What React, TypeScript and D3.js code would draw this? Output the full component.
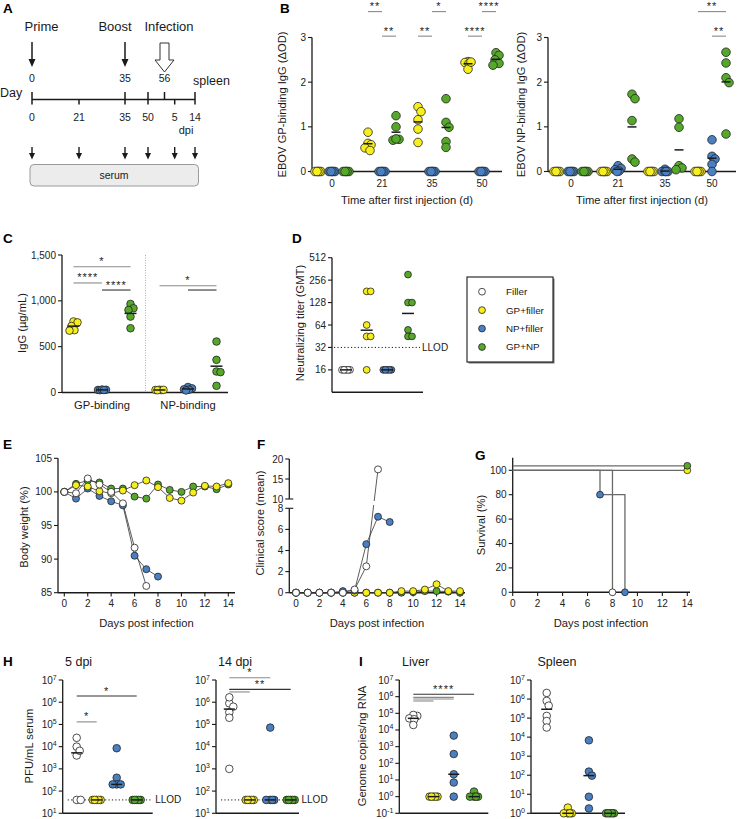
import React from "react";
import * as d3 from "d3";

const FONT = "Arial, 'Liberation Sans', Helvetica, sans-serif";
const INK = "#1a1a1a";
const LIGHT = "#8a8a8a";
const TITLE_SIZE = 11.2;

// groups shared by every panel
const groupNames = ["Filler", "GP+filler", "NP+filler", "GP+NP"];
const groupColors = ["#ffffff", "#f7ee1e", "#4a80c2", "#56a82b"];

// A: study timeline
const timeDays = [0, 21, 35, 50, 56, 61, 70];
const timeLabels = ["0", "21", "35", "50", "", "5", "14"];
const timeTickUp = [true, false, true, true, true, false, true];
const timeTickDown = [true, true, true, true, false, true, true];
const serumDays = [0, 21, 35, 50, 61, 70];
const eventNames = ["Prime", "Boost", "Infection"];
const eventDays = [0, 35, 56];

// B: ELISA over time (series: GP+filler, NP+filler, GP+NP)
const bDays = ["0", "21", "35", "50"];
const bGpYellow = [[0, 0, 0, 0, 0], [0.88, 0.63, 0.6, 0.53, 0.47], [1.45, 1.34, 1.16, 0.95, 0.65], [2.46, 2.44, 2.42, 2.29, 2.45]];
const bGpBlue = [[0, 0, 0, 0, 0], [0, 0, 0, 0, 0], [0, 0, 0, 0, 0], [0, 0, 0, 0, 0]];
const bGpGreen = [[0, 0, 0, 0, 0], [1.25, 1.0, 0.72, 0.7, 0.73], [1.63, 1.1, 0.99, 0.67, 0.54], [2.66, 2.6, 2.5, 2.42, 2.38]];
const bNpYellow = [[0, 0, 0, 0, 0], [0, 0, 0, 0, 0], [0, 0, 0, 0, 0], [0, 0, 0, 0, 0]];
const bNpBlue = [[0, 0, 0, 0, 0], [0.13, 0.07, 0.04, 0.01, 0], [0.05, 0, 0, 0, 0], [0.71, 0.34, 0.28, 0.16, 0]];
const bNpGreen = [[0, 0, 0, 0, 0], [1.73, 1.63, 1.14, 0.28, 0.21], [1.18, 0.99, 0.13, 0.08, 0.04], [2.67, 2.43, 2.1, 1.99, 0.84]];
const bGpSig = [
  { day: "21", a: 0, b: 1, h: 3.58, label: "**" },
  { day: "21", a: 1, b: 2, h: 3.03, label: "**" },
  { day: "35", a: 1, b: 2, h: 3.58, label: "*" },
  { day: "35", a: 0, b: 1, h: 3.03, label: "**" },
  { day: "50", a: 1, b: 2, h: 3.58, label: "****" },
  { day: "50", a: 0, b: 1, h: 3.03, label: "****" },
];
const bNpSig = [
  { day: "50", a: 0, b: 2, h: 3.58, label: "**" },
  { day: "50", a: 1, b: 2, h: 3.03, label: "**" },
];

// C: IgG concentration
const cCats = ["GP-binding", "NP-binding"];
const cYellow = [[775, 765, 725, 680, 675], [28, 30, 26, 25, 29]];
const cBlue = [[30, 28, 25, 32, 27], [60, 45, 35, 30, 22]];
const cGreen = [[966, 919, 900, 828, 701], [556, 356, 229, 222, 73]];
const cSig = [
  { cat: "GP-binding", a: 0, b: 2, h: 1372, label: "*", bold: false },
  { cat: "GP-binding", a: 0, b: 1, h: 1195, label: "****", bold: false },
  { cat: "GP-binding", a: 1, b: 2, h: 1118, label: "****", bold: true },
  { cat: "NP-binding", a: 0, b: 2, h: 1165, label: "*", bold: false },
  { cat: "NP-binding", a: 1, b: 2, h: 1118, label: "", bold: true },
];

// D: neutralizing titers
const dValues = [
  [16, 16, 16, 16, 16],
  [181, 181, 64, 45, 45, 16],
  [16, 16, 16, 16, 16],
  [304, 128, 128, 55, 45, 45],
];
const dTicks = [16, 32, 64, 128, 256, 512];
const dLlod = 32;

// E: body weight, F: clinical score (index = day post infection)
const eWeight = [
  [100, 99.8, 102.0, 101.1, 100.0, 98.3, 91.7, 86.0],
  [100, 101.0, 100.8, 100.1, 99.8, 100.2, 101.0, 101.7, 100.7, 99.1, 98.7, 99.9, 100.9, 100.8, 101.3],
  [100, 99.0, 100.5, 99.4, 98.6, 98.0, 90.5, 88.5, 87.4],
  [100, 101.2, 101.7, 101.4, 100.5, 100.5, 99.3, 99.0, 101.1, 100.3, 100.0, 100.8, 100.8, 100.4, 101.1],
];
const fScore = [
  [0, 0, 0, 0, 0, 0.3, 2.5, 17.4],
  [0, 0, 0, 0, 0, 0, 0, 0, 0, 0.15, 0.15, 0.3, 0.8, 0.15, 0.15],
  [0, 0, 0, 0, 0.15, 0.2, 4.6, 7.2, 6.7],
  [0, 0, 0, 0, 0, 0, 0, 0, 0, 0, 0.05, 0.15, 0.15, 0.1, 0],
];
const drawOrder = [3, 2, 1, 0];

// G: survival
const gTimes = [[0, 8], [0, 14], [0, 7, 9], [0, 14]];
const gSurv = [[100, 0], [100, 100], [100, 80, 0], [100, 100]];

// H: viremia
const h5 = [[1e4, 2.5e4, 4e3, 6.5e3, 40, 40], [40, 40, 40, 40, 40], [8.5e3, 400, 200, 200, 200], [40, 40, 40, 40, 40]];
const h14 = [[8.9e5, 1.66e6, 6.3e5, 3.5e5, 2e5, 1e3], [40, 40, 40, 40, 40], [7.2e4, 40, 40, 40, 40], [40, 40, 40, 40, 40]];
const hLlod = 40;
const h5Sig = [
  { a: 0, b: 3, h: 1.9e6, label: "*", bold: true },
  { a: 0, b: 1, h: 1.3e5, label: "*", bold: false },
];
const h14Sig = [
  { a: 0, b: 2, h: 1.26e7, label: "*", bold: false },
  { a: 0, b: 3, h: 3.8e6, label: "**", bold: true },
  { a: 0, b: 1, h: 2.9e6, label: "", bold: false },
];

// I: tissue viral RNA
const liver = [[7e4, 8e4, 5e4, 4.4e4, 2e4], [1, 1, 1, 1, 1], [4.6e3, 360, 22, 7, 1], [2, 1, 1, 1, 1]];
const spleen = [[2.1e6, 8e5, 4.5e5, 1.3e5, 7e4, 3.2e4], [2, 1, 1, 1, 1], [6.8e3, 155, 95, 7.4, 1.8], [1, 1, 1, 1, 1]];
const liverSig = [
  { a: 0, b: 3, h: 1.4e6, label: "****", bold: true },
  { a: 0, b: 2, h: 9.1e5, label: "", bold: false },
  { a: 0, b: 2, h: 7.2e5, label: "", bold: false },
  { a: 0, b: 1, h: 5.5e5, label: "", bold: false },
];

// ---------- helpers ----------
function dodge(values, y, r, spread) {
  const placed = [];
  const order = values.map((_, i) => i).sort((a, b) => y(values[a]) - y(values[b]));
  const offs = values.map(() => 0);
  const cands = [0];
  for (let k = 1; k <= spread; k++) cands.push(k, -k);
  for (const i of order) {
    const py = y(values[i]);
    let best = 0,
      bestD = -Infinity;
    for (const c of cands) {
      let m = Infinity;
      for (const [px, qy] of placed) m = Math.min(m, Math.hypot(px - c, qy - py));
      if (m >= r * 1.3) {
        best = c;
        break;
      }
      if (m > bestD + 0.01) {
        bestD = m;
        best = c;
      }
    }
    offs[i] = best;
    placed.push([best, py]);
  }
  return offs;
}

function Swarm({ values, cx, y, r, color, spread }) {
  const offs = dodge(values, y, r, spread);
  return (
    <>
      {values.map((v, i) => (
        <circle key={i} cx={cx + offs[i]} cy={y(v)} r={r} fill={color} stroke="#222" strokeWidth={0.8} />
      ))}
    </>
  );
}

function Dot({ cx, cy, r, color }) {
  return <circle cx={cx} cy={cy} r={r} fill={color} stroke="#222" strokeWidth={0.8} />;
}

function CenterLine({ cx, cy, w = 5 }) {
  return <line x1={cx - w} x2={cx + w} y1={cy} y2={cy} stroke={INK} strokeWidth={1.5} />;
}

function Sig({ x1, x2, y, label, bold }) {
  return (
    <g>
      <line x1={x1} x2={x2} y1={y} y2={y} stroke={bold ? "#333" : LIGHT} strokeWidth={1.1} />
      {label && (
        <text x={(x1 + x2) / 2} y={y - 1.5} fontSize={11} textAnchor="middle" letterSpacing={1}>
          {label}
        </text>
      )}
    </g>
  );
}

function YAxis({ x, y, ticks, fmt, top, bottom, fontSize = 10 }) {
  return (
    <g>
      <line x1={x} x2={x} y1={top} y2={bottom} stroke={INK} strokeWidth={1.3} />
      {ticks.map((t, i) => (
        <g key={i}>
          <line x1={x - 4} x2={x} y1={y(t)} y2={y(t)} stroke={INK} strokeWidth={1.1} />
          <text x={x - 6} y={y(t)} dy="0.35em" textAnchor="end" fontSize={fontSize} fill="#222">
            {fmt(t)}
          </text>
        </g>
      ))}
    </g>
  );
}

function XLine({ x1, x2, y }) {
  return <line x1={x1} x2={x2} y1={y} y2={y} stroke={INK} strokeWidth={1.4} />;
}

function VTitle({ x, y, children }) {
  return (
    <text transform={`translate(${x},${y}) rotate(-90)`} textAnchor="middle" dy="0.35em" fontSize={TITLE_SIZE}>
      {children}
    </text>
  );
}

function Letter({ x, y, c }) {
  return (
    <text x={x} y={y} fontSize={13.5} fontWeight="bold" fill="#000">
      {c}
    </text>
  );
}

const pow10 = t => {
  const e = Math.round(Math.log10(t));
  return (
    <>
      10
      <tspan dy="-4" fontSize={7}>
        {e < 0 ? "-" + -e : String(e)}
      </tspan>
    </>
  );
};

// ---------- A ----------
function PanelA() {
  const x = d3.scaleLinear().domain(timeDays).range([32, 79, 125, 148, 164.5, 174.7, 195]);
  const lineY = 99.5;
  const labelDx = [9.5, -10, 4.5];
  return (
    <g>
      <Letter x={3} y={13} c="A" />
      {eventNames.map((n, i) => (
        <text key={n} x={x(eventDays[i]) + labelDx[i]} y={31} fontSize={13} textAnchor="middle">
          {n}
        </text>
      ))}
      {eventDays.map((d, i) =>
        i < 2 ? (
          <g key={d}>
            <line x1={x(d)} x2={x(d)} y1={42} y2={60} stroke={INK} strokeWidth={1.5} />
            <path d={`M${x(d) - 3.5},59 L${x(d) + 3.5},59 L${x(d)},67 Z`} fill={INK} />
          </g>
        ) : (
          <path
            key={d}
            d={`M${x(d) - 4.5},43 L${x(d) + 4.5},43 L${x(d) + 4.5},60 L${x(d) + 9.5},60 L${x(d)},72 L${x(d) - 9.5},60 L${x(d) - 4.5},60 Z`}
            fill="#fff"
            stroke="#333"
            strokeWidth={1}
          />
        )
      )}
      {eventDays.map(d => (
        <text key={d} x={x(d)} y={82} fontSize={10.5} textAnchor="middle">
          {d}
        </text>
      ))}
      <text x={193} y={85} fontSize={12.5}>
        spleen
      </text>
      <text x={0} y={97} fontSize={12.5}>
        Day
      </text>
      <line x1={x(0)} x2={x(70)} y1={lineY} y2={lineY} stroke={INK} strokeWidth={1.5} />
      {timeDays.map((d, i) => (
        <g key={d}>
          <line
            x1={x(d)}
            x2={x(d)}
            y1={timeTickUp[i] ? lineY - 7.5 : lineY}
            y2={timeTickDown[i] ? lineY + 5 : lineY}
            stroke={INK}
            strokeWidth={1.5}
          />
          <text x={x(d)} y={121} fontSize={10.5} textAnchor="middle">
            {timeLabels[i]}
          </text>
        </g>
      ))}
      <text x={186} y={134} fontSize={11} textAnchor="middle">
        dpi
      </text>
      {serumDays.map(d => (
        <g key={d}>
          <line x1={x(d)} x2={x(d)} y1={147} y2={155} stroke={INK} strokeWidth={1.4} />
          <path d={`M${x(d) - 3},153 L${x(d) + 3},153 L${x(d)},159.5 Z`} fill={INK} />
        </g>
      ))}
      <rect x={30} y={164.5} width={168.5} height={21.5} rx={4} fill="#ececec" stroke="#9a9a9a" strokeWidth={1} />
      <text x={114} y={179} fontSize={10.5} textAnchor="middle">
        serum
      </text>
    </g>
  );
}

// ---------- B ----------
function TimeScatter({ series, axisX, axisEnd, centers, title, titleX, sigs }) {
  const y = d3.scaleLinear().domain([0, 3]).range([171.5, 37.5]);
  const x = d3.scalePoint().domain(bDays).range(centers);
  const offs = [-14, 0, 14];
  const colors = [groupColors[1], groupColors[2], groupColors[3]];
  return (
    <g>
      <YAxis x={axisX} y={y} ticks={[0, 1, 2, 3]} fmt={t => t} top={y(3)} bottom={y(0)} />
      <XLine x1={axisX} x2={axisEnd} y={y(0)} />
      {bDays.map((d, di) => (
        <g key={d}>
          {series.map((s, si) => (
            <Swarm key={si} values={s[di]} cx={x(d) + offs[si]} y={y} r={4.3} color={colors[si]} spread={3} />
          ))}
          {series.map((s, si) =>
            d3.mean(s[di]) > 0 ? <CenterLine key={"m" + si} cx={x(d) + offs[si]} cy={y(d3.mean(s[di]))} w={4.5} /> : null
          )}
          <text x={x(d)} y={187} textAnchor="middle" fontSize={10} fill="#222">
            {d}
          </text>
        </g>
      ))}
      {sigs.map((s, i) => (
        <Sig key={i} x1={x(s.day) + offs[s.a]} x2={x(s.day) + offs[s.b]} y={y(s.h)} label={s.label} bold={false} />
      ))}
      <VTitle x={titleX} y={104.5}>
        {title}
      </VTitle>
      <text x={(axisX + axisEnd) / 2} y={204} textAnchor="middle" fontSize={TITLE_SIZE}>
        Time after first injection (d)
      </text>
    </g>
  );
}

// ---------- C ----------
function PanelC() {
  const y = d3.scaleLinear().domain([0, 1500]).range([392.5, 255]);
  const x = d3.scalePoint().domain(cCats).range([102, 188]);
  const offs = [-28.5, 0, 28.5];
  const series = [cYellow, cBlue, cGreen];
  const colors = [groupColors[1], groupColors[2], groupColors[3]];
  const fmt = d3.format(",");
  return (
    <g>
      <Letter x={3} y={243} c="C" />
      <line x1={145.5} x2={145.5} y1={255} y2={392.5} stroke="#999" strokeWidth={0.8} strokeDasharray="1,1.5" />
      <YAxis x={62} y={y} ticks={[0, 500, 1000, 1500]} fmt={fmt} top={255} bottom={392.5} />
      <XLine x1={62} x2={228} y={392.5} />
      {cCats.map((c, ci) => (
        <g key={c}>
          {series.map((s, si) => (
            <Swarm key={si} values={s[ci]} cx={x(c) + offs[si]} y={y} r={3.8} color={colors[si]} spread={4} />
          ))}
          {series.map((s, si) => (
            <CenterLine key={"m" + si} cx={x(c) + offs[si]} cy={y(d3.mean(s[ci]))} w={6} />
          ))}
          <text x={x(c)} y={408.5} textAnchor="middle" fontSize={TITLE_SIZE}>
            {c}
          </text>
        </g>
      ))}
      {cSig.map((s, i) => (
        <Sig key={i} x1={x(s.cat) + offs[s.a]} x2={x(s.cat) + offs[s.b]} y={y(s.h)} label={s.label} bold={s.bold} />
      ))}
      <VTitle x={22} y={323}>
        IgG (µg/mL)
      </VTitle>
    </g>
  );
}

// ---------- D + legend ----------
function PanelD() {
  const y = d3.scaleLog().base(2).domain([8, 512]).range([392.3, 257.7]);
  const x = d3.scalePoint().domain(groupNames).range([346, 408]);
  const ly = d3.scalePoint().domain(groupNames).range([291.7, 347]);
  return (
    <g>
      <Letter x={292} y={243} c="D" />
      <line x1={334} x2={420} y1={y(dLlod)} y2={y(dLlod)} stroke={INK} strokeWidth={1} strokeDasharray="1.2,2.2" />
      <text x={422} y={y(dLlod)} dy="0.35em" fontSize={10}>
        LLOD
      </text>
      <YAxis x={332} y={y} ticks={dTicks} fmt={t => t} top={257.7} bottom={392.3} />
      <XLine x1={332} x2={423} y={392.3} />
      {dValues.map((vals, g) => (
        <Swarm key={g} values={vals} cx={x(groupNames[g])} y={y} r={3.4} color={groupColors[g]} spread={4} />
      ))}
      {dValues.map((vals, g) => (
        <CenterLine key={"m" + g} cx={x(groupNames[g])} cy={y(d3.median(vals))} w={6} />
      ))}
      <VTitle x={300} y={323}>
        Neutralizing titer (GMT)
      </VTitle>
      <rect x={468.5} y={278.5} width={86} height={85} fill="#777" />
      <rect x={467} y={277} width={86} height={85} fill="#fff" stroke={INK} strokeWidth={1.1} />
      {groupNames.map((n, i) => (
        <g key={n}>
          <Dot cx={482} cy={ly(n)} r={3.4} color={groupColors[i]} />
          <text x={506} y={ly(n)} dy="0.35em" fontSize={9.8}>
            {n}
          </text>
        </g>
      ))}
    </g>
  );
}

// ---------- E ----------
function PanelE() {
  const x = d3.scaleLinear().domain([0, 14]).range([64.3, 228.3]);
  const y = d3.scaleLinear().domain([85, 105]).range([592.7, 458.3]);
  const line = d3.line().x((_, i) => x(i)).y(v => y(v));
  return (
    <g>
      <Letter x={3} y={449} c="E" />
      <YAxis x={58} y={y} ticks={[85, 90, 95, 100, 105]} fmt={t => t} top={458.3} bottom={592.7} />
      <XLine x1={58} x2={235} y={592.7} />
      {d3.range(0, 15, 2).map(t => (
        <g key={t}>
          <line x1={x(t)} x2={x(t)} y1={592.7} y2={596.5} stroke={INK} strokeWidth={1.1} />
          <text x={x(t)} y={607} textAnchor="middle" fontSize={10} fill="#222">
            {t}
          </text>
        </g>
      ))}
      {drawOrder.map(g => (
        <path key={"l" + g} d={line(eWeight[g])} fill="none" stroke="#333" strokeWidth={0.8} />
      ))}
      {drawOrder.map(g => (
        <g key={g}>
          {eWeight[g].map((v, i) => (
            <Dot key={i} cx={x(i)} cy={y(v)} r={3.5} color={groupColors[g]} />
          ))}
        </g>
      ))}
      <VTitle x={24} y={527}>
        Body weight (%)
      </VTitle>
      <text x={146.5} y={627} textAnchor="middle" fontSize={TITLE_SIZE}>
        Days post infection
      </text>
    </g>
  );
}

// ---------- F ----------
function PanelF() {
  const x = d3.scaleLinear().domain([0, 14]).range([296, 460]);
  const yLow = d3.scaleLinear().domain([0, 8]).range([592.7, 508.3]);
  const yHigh = d3.scaleLinear().domain([10, 20]).range([499, 459]);
  const y = v => (v <= 9 ? yLow(v) : yHigh(v));
  const line = d3.line().x((_, i) => x(i)).y(v => y(v));
  const ax = 289.3;
  return (
    <g>
      <Letter x={257} y={449} c="F" />
      <defs>
        <clipPath id="fHigh">
          <rect x={280} y={440} width={200} height={61} />
        </clipPath>
        <clipPath id="fLow">
          <rect x={280} y={505} width={200} height={100} />
        </clipPath>
      </defs>
      <YAxis x={ax} y={yHigh} ticks={[10, 15, 20]} fmt={t => t} top={459} bottom={499} />
      <YAxis x={ax} y={yLow} ticks={[0, 2, 4, 6, 8]} fmt={t => t} top={508.3} bottom={592.7} />
      <line x1={ax} x2={ax + 4} y1={499} y2={499} stroke={INK} strokeWidth={1.1} />
      <line x1={ax} x2={ax + 4} y1={508.3} y2={508.3} stroke={INK} strokeWidth={1.1} />
      <XLine x1={ax} x2={465} y={592.7} />
      {d3.range(0, 15, 2).map(t => (
        <g key={t}>
          <line x1={x(t)} x2={x(t)} y1={592.7} y2={596.5} stroke={INK} strokeWidth={1.1} />
          <text x={x(t)} y={607} textAnchor="middle" fontSize={10} fill="#222">
            {t}
          </text>
        </g>
      ))}
      {drawOrder.map(g => (
        <g key={"l" + g}>
          <path d={line(fScore[g])} fill="none" stroke="#333" strokeWidth={0.8} clipPath="url(#fHigh)" />
          <path d={line(fScore[g])} fill="none" stroke="#333" strokeWidth={0.8} clipPath="url(#fLow)" />
        </g>
      ))}
      {[3, 1, 2, 0].map(g => (
        <g key={g}>
          {fScore[g].map((v, i) => (
            <Dot key={i} cx={x(i)} cy={y(v)} r={3.5} color={groupColors[g]} />
          ))}
        </g>
      ))}
      <VTitle x={260} y={523}>
        Clinical score (mean)
      </VTitle>
      <text x={377} y={627} textAnchor="middle" fontSize={TITLE_SIZE}>
        Days post infection
      </text>
    </g>
  );
}

// ---------- G ----------
function PanelG() {
  const x = d3.scaleLinear().domain([0, 14]).range([512.7, 687.3]);
  const y = d3.scaleLinear().domain([0, 100]).range([592.3, 470.3]);
  const nudge = [0, 0, 0, -4.5];
  return (
    <g>
      <Letter x={475} y={460} c="G" />
      <YAxis x={512.7} y={y} ticks={[0, 20, 40, 60, 80, 100]} fmt={t => t} top={457.7} bottom={592.3} />
      <XLine x1={512.7} x2={690} y={592.3} />
      {d3.range(0, 15, 2).map(t => (
        <g key={t}>
          <line x1={x(t)} x2={x(t)} y1={592.3} y2={596} stroke={INK} strokeWidth={1.1} />
          <text x={x(t)} y={607} textAnchor="middle" fontSize={10} fill="#222">
            {t}
          </text>
        </g>
      ))}
      {[1, 3, 0, 2].map(g => {
        const pts = gTimes[g].map((t, i) => [x(t), y(gSurv[g][i]) + nudge[g]]);
        const path = d3.line().curve(d3.curveStepAfter)(pts);
        return <path key={"l" + g} d={path} fill="none" stroke="#6a6a6a" strokeWidth={1.3} />;
      })}
      {[1, 3, 0, 2].map(g => (
        <g key={g}>
          {gTimes[g].slice(1).map((t, i) => (
            <Dot key={i} cx={x(t)} cy={y(gSurv[g][i + 1]) + nudge[g]} r={3.4} color={groupColors[g]} />
          ))}
        </g>
      ))}
      <VTitle x={481} y={525}>
        Survival (%)
      </VTitle>
      <text x={601} y={627} textAnchor="middle" fontSize={TITLE_SIZE}>
        Days post infection
      </text>
    </g>
  );
}

// ---------- H / I ----------
function CatLog({ series, lo, axisX, axisEnd, centers, sigs, title, titleX, llod }) {
  const y = d3.scaleLog().domain([lo, 1e7]).range([813.3, 680]);
  const x = d3.scalePoint().domain(groupNames).range(centers);
  const ticks = d3.range(Math.round(Math.log10(lo)), 8).map(e => Math.pow(10, e));
  return (
    <g>
      <text x={titleX} y={666} fontSize={12.5}>
        {title}
      </text>
      {llod && (
        <g>
          <line x1={axisX + 5} x2={axisEnd} y1={y(llod)} y2={y(llod)} stroke={INK} strokeWidth={1} strokeDasharray="1.2,2.2" />
          <text x={axisEnd + 2.5} y={y(llod)} dy="0.35em" fontSize={10}>
            LLOD
          </text>
        </g>
      )}
      <YAxis x={axisX} y={y} ticks={ticks} fmt={pow10} top={680} bottom={813.3} />
      <XLine x1={axisX} x2={axisEnd} y={813.3} />
      {series.map((vals, g) => (
        <Swarm key={g} values={vals} cx={x(groupNames[g])} y={y} r={3.8} color={groupColors[g]} spread={4} />
      ))}
      {series.map((vals, g) => (
        <CenterLine key={"m" + g} cx={x(groupNames[g])} cy={y(d3.median(vals))} w={5.5} />
      ))}
      {sigs.map((s, i) => (
        <Sig key={i} x1={x(groupNames[s.a])} x2={x(groupNames[s.b])} y={y(s.h)} label={s.label} bold={s.bold} />
      ))}
    </g>
  );
}

export default function App() {
  return (
    <svg
      width={738}
      height={819}
      viewBox="0 0 738 819"
      style={{ position: "absolute", left: 0, top: 0, background: "#fff" }}
      fontFamily={FONT}
      fill={INK}
    >
      <rect width={738} height={819} fill="#fff" />
      <PanelA />
      <Letter x={280} y={13} c="B" />
      <TimeScatter
        series={[bGpYellow, bGpBlue, bGpGreen]}
        axisX={312}
        axisEnd={502}
        centers={[332, 482]}
        title="EBOV GP-binding IgG (ΔOD)"
        titleX={282}
        sigs={bGpSig}
      />
      <TimeScatter
        series={[bNpYellow, bNpBlue, bNpGreen]}
        axisX={548}
        axisEnd={736}
        centers={[571, 712]}
        title="EBOV NP-binding IgG (ΔOD)"
        titleX={521}
        sigs={bNpSig}
      />
      <PanelC />
      <PanelD />
      <PanelE />
      <PanelF />
      <PanelG />
      <Letter x={3} y={666} c="H" />
      <CatLog series={h5} lo={10} axisX={62.7} axisEnd={152.7} centers={[76.7, 136.7]} sigs={h5Sig} title="5 dpi" titleX={65} llod={hLlod} />
      <CatLog series={h14} lo={10} axisX={216} axisEnd={299} centers={[229.3, 290.7]} sigs={h14Sig} title="14 dpi" titleX={218} llod={hLlod} />
      <VTitle x={29} y={746}>
        PFU/mL serum
      </VTitle>
      <Letter x={359} y={666} c="I" />
      <CatLog series={liver} lo={0.1} axisX={399.3} axisEnd={488.3} centers={[413.3, 474]} sigs={liverSig} title="Liver" titleX={402} llod={null} />
      <CatLog series={spleen} lo={1} axisX={531} axisEnd={625} centers={[546.7, 610]} sigs={[]} title="Spleen" titleX={537.5} llod={null} />
      <VTitle x={362} y={746}>
        Genome copies/ng RNA
      </VTitle>
    </svg>
  );
}
